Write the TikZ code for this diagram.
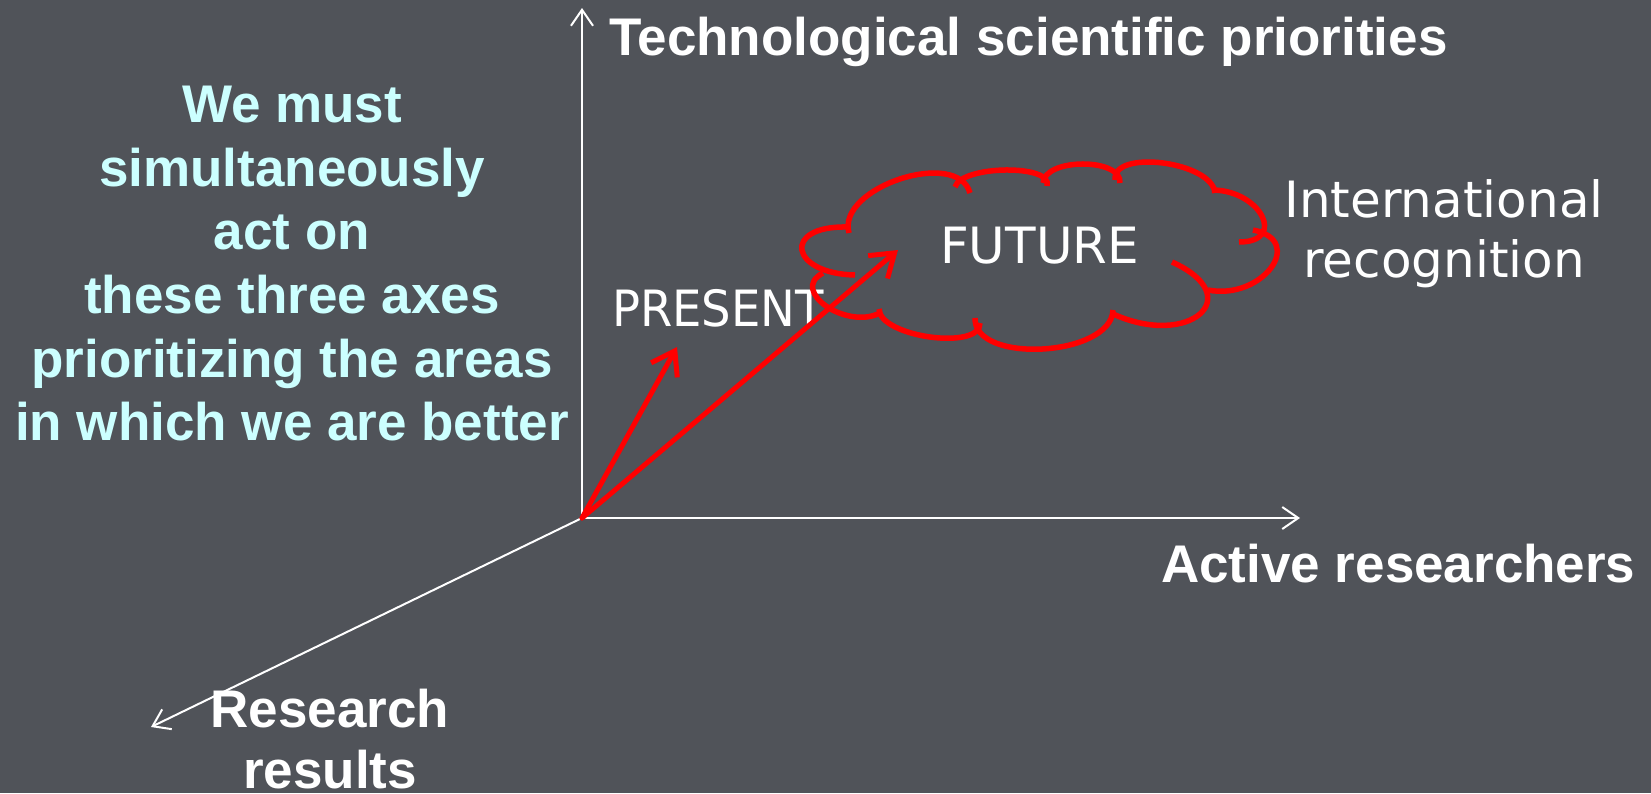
\documentclass[tikz,border=0pt]{standalone}
\usepackage{fontspec}
\setmainfont{Liberation Sans}
\newfontfamily\thinsans{DejaVu Sans}
\usetikzlibrary{arrows.meta,calc}
\definecolor{bg}{RGB}{80,83,89}
\definecolor{cyantext}{RGB}{204,255,255}
\definecolor{cloudred}{RGB}{255,0,0}
\newcommand\cloudlobe[3]{\draw[puff] (#1) .. controls ($0.3333*(#1)+1.3333*(#2)-0.6667*(#3)$) and ($0.3333*(#3)+1.3333*(#2)-0.6667*(#1)$) .. (#3);}
\begin{document}
\begin{tikzpicture}[x=1pt,y=-1pt,
  axis/.style={draw=white, line width=2pt, -{Straight Barb[length=16pt,width=22pt]}},
  vec/.style={draw=cloudred, line width=5pt, line cap=round, -{Straight Barb[length=22pt,width=30pt]}},
  puff/.style={draw=cloudred, line width=5.5pt},
  lbl/.style={inner sep=0pt, text=white, font=\fontsize{53}{61}\selectfont\bfseries},
  thinlbl/.style={inner sep=0pt, text=white, font=\fontsize{50}{60}\thinsans},
]
\fill[bg] (0,0) rectangle (1651,793);
\useasboundingbox (0,0) rectangle (1651,793);

% axes
\coordinate (O) at (582,518);
\coordinate (Ytip) at (582,8);
\coordinate (Xtip) at (1300,518);
\coordinate (Ztip) at (151,727);
\draw[axis] (O) -- (Ytip);
\draw[axis] (O) -- (Xtip);
\draw[axis] (O) -- (Ztip);

% texts
\node[lbl, anchor=base west] (tsp) at (609,55) {Technological scientific priorities};
\node[lbl, text=cyantext, align=center, anchor=north, font=\fontsize{53}{63.6}\selectfont\bfseries] (msg) at (292,86)
  {We must\\simultaneously\\act on\\these three axes\\prioritizing the areas\\in which we are better};
\node[lbl, anchor=base west] (ar) at (1161,582) {Active researchers};
\node[lbl, align=center, anchor=north] (rr) at (330,689) {Research\\results};
\node[thinlbl, anchor=base west] (present) at (612,326) {\scalebox{0.93}[1]{PRESENT}};
\node[thinlbl, anchor=base west] (future) at (940,263) {FUTURE};
\node[thinlbl, align=center, anchor=north] (ir) at (1444,179) {International\\recognition};

% cloud
\cloudlobe{855,275}{802,250}{847,227}
\cloudlobe{849,233}{900,179}{970,193}
\cloudlobe{955,187}{1006,170}{1047,186}
\cloudlobe{1043,183}{1083,164}{1120,183}
\cloudlobe{1115,180}{1163,163}{1215,193}
\cloudlobe{1212,190}{1262,216}{1239,242}
\cloudlobe{1253,230}{1271,268}{1208,290}
\cloudlobe{1172,262}{1200,314}{1113,314}
\cloudlobe{1113,310}{1043,349}{975,318}
\cloudlobe{980,323}{930,337}{879,309}
\cloudlobe{880,313}{826,306}{823,273}

% vectors
\coordinate (Ptip) at (677,347);
\coordinate (Ftip) at (898,250);
\draw[vec] (O) -- (Ptip);
\draw[vec] (O) -- (Ftip);
\end{tikzpicture}
\end{document}
